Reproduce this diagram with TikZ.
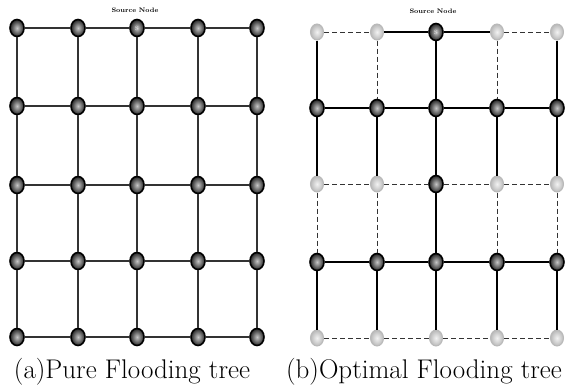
\documentclass[tikz,border=0pt]{standalone}
\usetikzlibrary{shapes.geometric}
\begin{document}
\begin{tikzpicture}[x=1pt,y=-1pt,
  darknode/.style={ellipse, minimum width=14pt, minimum height=17pt, inner sep=0pt,
    draw=black, line width=1.6pt, inner color=gray!45, outer color=black!85},
  lightnode/.style={ellipse, minimum width=13pt, minimum height=16pt, inner sep=0pt,
    draw=gray!55, line width=1pt, inner color=gray!10, outer color=gray!55},
  srclabel/.style={font=\bfseries\fontsize{6.5}{6.5}\selectfont},
  nodelabel/.style={font=\fontsize{6}{6}\selectfont, text=gray!20},
  pureedge/.style={draw=black!80, line width=1.1pt},
  treeedge/.style={draw=black, line width=1.5pt},
  thicktree/.style={draw=black, line width=2.8pt},
  dashedge/.style={draw=black!80, line width=0.9pt, dash pattern=on 5pt off 3pt},
  caption/.style={font=\fontsize{27}{29}\selectfont}]
\useasboundingbox (0,0) rectangle (565,391);

% ---------- (a) pure flooding: every node relays ----------
\foreach \r/\yy in {1/28,2/106,3/185,4/261,5/337}
  \foreach \c/\xx in {1/17,2/78,3/137,4/198,5/257}
    \node[darknode] (L-\r-\c) at (\xx,\yy) {};
\node[nodelabel] at (L-1-3) {S};
\foreach \r in {1,...,5}{
  \foreach \c in {1,...,4}{
    \pgfmathtruncatemacro\nx{\c+1}
    \draw[pureedge] (L-\r-\c) -- (L-\r-\nx);
  }
}
\foreach \r in {1,...,4}{
  \pgfmathtruncatemacro\ny{\r+1}
  \foreach \c in {1,...,5}
    \draw[pureedge] (L-\r-\c) -- (L-\ny-\c);
}
\node[srclabel] (Ltitle) at (135,10) {Source Node};
\node[caption] (Lcap) at (132,372) {(a)Pure Flooding tree};

% ---------- (b) optimal flooding: relays on rows 2 and 4 ----------
\foreach \r/\yy in {1/32,2/108,3/184,4/262,5/338}
  \foreach \c/\xx in {1/317,2/377,3/436,4/497,5/557}
    \coordinate (P-\r-\c) at (\xx,\yy);
\foreach \r in {1,3}
  \foreach \c in {1,2,4,5}
    \node[lightnode] (R-\r-\c) at (P-\r-\c) {};
\foreach \c in {1,...,5}
  \node[lightnode] (R-5-\c) at (P-5-\c) {};
\foreach \r in {2,4}
  \foreach \c in {1,...,5}
    \node[darknode] (R-\r-\c) at (P-\r-\c) {};
\node[darknode] (R-1-3) at (P-1-3) {};
\node[darknode] (R-3-3) at (P-3-3) {};
\node[nodelabel] at (R-1-3) {S};

% horizontal links
\draw[dashedge]  (R-1-1) -- (R-1-2);
\draw[thicktree] (R-1-2) -- (R-1-3);
\draw[thicktree] (R-1-3) -- (R-1-4);
\draw[dashedge]  (R-1-4) -- (R-1-5);
\foreach \r in {2,4}{
  \foreach \c in {1,...,4}{
    \pgfmathtruncatemacro\nx{\c+1}
    \draw[treeedge] (R-\r-\c) -- (R-\r-\nx);
  }
}
\foreach \r in {3,5}{
  \foreach \c in {1,...,4}{
    \pgfmathtruncatemacro\nx{\c+1}
    \draw[dashedge] (R-\r-\c) -- (R-\r-\nx);
  }
}

% vertical links
\draw[treeedge]  (R-1-1) -- (R-2-1);
\draw[dashedge]  (R-1-2) -- (R-2-2);
\draw[treeedge]  (R-1-3) -- (R-2-3);
\draw[dashedge]  (R-1-4) -- (R-2-4);
\draw[thicktree] (R-1-5) -- (R-2-5);
\foreach \c in {1,...,5}
  \draw[treeedge] (R-2-\c) -- (R-3-\c);
\draw[dashedge] (R-3-1) -- (R-4-1);
\draw[dashedge] (R-3-2) -- (R-4-2);
\draw[treeedge] (R-3-3) -- (R-4-3);
\draw[dashedge] (R-3-4) -- (R-4-4);
\draw[dashedge] (R-3-5) -- (R-4-5);
\foreach \c in {1,...,5}
  \draw[treeedge] (R-4-\c) -- (R-5-\c);

\node[srclabel] (Rtitle) at (433,11) {Source Node};
\node[caption] (Rcap) at (424,372) {(b)Optimal Flooding tree};
\end{tikzpicture}
\end{document}
